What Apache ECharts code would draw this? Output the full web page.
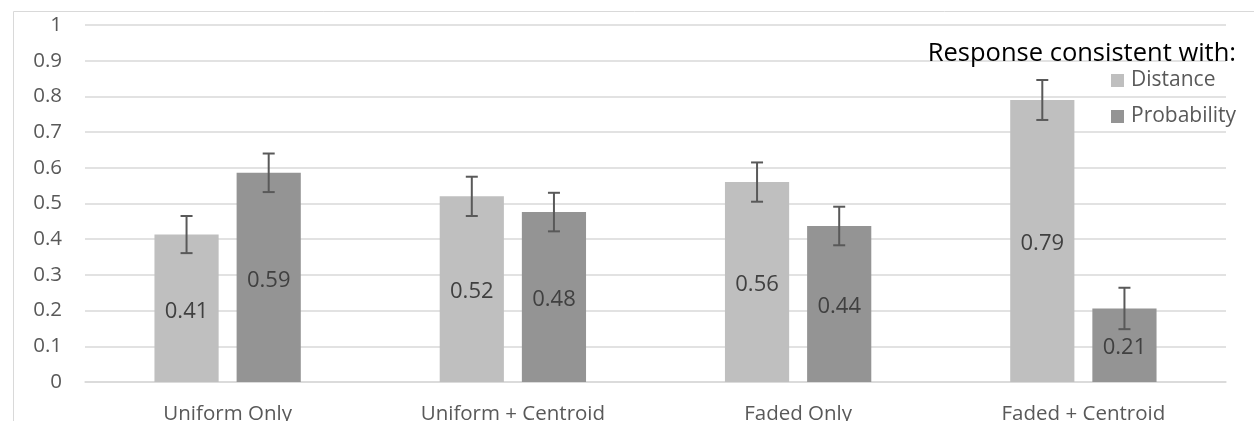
<!DOCTYPE html>
<html><head><meta charset="utf-8">
<script src="https://cdn.jsdelivr.net/npm/echarts@6/dist/echarts.min.js"></script>
<style>html,body{margin:0;padding:0;background:#fff}#c{width:1254px;height:421px}</style>
</head><body><div id="c"></div>
<script>
const categories = ['Uniform Only', 'Uniform + Centroid', 'Faded Only', 'Faded + Centroid'];
const distance = [0.413, 0.520, 0.560, 0.790];
const probability = [0.586, 0.476, 0.437, 0.206];
const distanceErr = [0.052, 0.055, 0.055, 0.056];
const probabilityErr = [0.054, 0.054, 0.054, 0.058];
const labelDistance = ['0.41', '0.52', '0.56', '0.79'];
const labelProbability = ['0.59', '0.48', '0.44', '0.21'];

const FONT = 'Open Sans';
const BAR_W = 0.225, BAR_GAP = 0.28;

function errSeries(vals, errs, side) {
  return {
    type: 'custom',
    z: 5,
    silent: true,
    data: vals.map((v, i) => [i, v - errs[i], v + errs[i]]),
    renderItem: function (params, api) {
      const band = api.size([1, 0])[0];
      const bw = band * BAR_W;
      const off = side * (bw + bw * BAR_GAP) / 2;
      const lo = api.coord([api.value(0), api.value(1)]);
      const hi = api.coord([api.value(0), api.value(2)]);
      const x = lo[0] + off;
      const cap = 6;
      const style = { stroke: '#595959', lineWidth: 2 };
      return {
        type: 'group',
        children: [
          { type: 'line', shape: { x1: x, y1: lo[1], x2: x, y2: hi[1] }, style },
          { type: 'line', shape: { x1: x - cap, y1: lo[1], x2: x + cap, y2: lo[1] }, style },
          { type: 'line', shape: { x1: x - cap, y1: hi[1], x2: x + cap, y2: hi[1] }, style }
        ]
      };
    }
  };
}

const chart = echarts.init(document.getElementById('c'), null, { renderer: 'canvas' });
chart.setOption({
  animation: false,
  backgroundColor: '#fff',
  textStyle: { fontFamily: FONT },
  graphic: [{
    type: 'rect', left: 11, top: 9, z: -10,
    shape: { width: 1300, height: 500 },
    style: { fill: 'none', stroke: '#d9d9d9', lineWidth: 1 }
  }],
  title: {
    text: 'Response consistent with:',
    right: 13, top: 36,
    textStyle: { fontFamily: FONT, fontSize: 25.5, fontWeight: 'normal', color: '#000' }
  },
  legend: {
    orient: 'vertical', left: 1106, top: 65,
    itemWidth: 13, itemHeight: 13, itemGap: 15, icon: 'rect',
    textStyle: { fontFamily: FONT, fontSize: 21, color: '#595959', padding: [0, 0, 0, 2] },
    data: ['Distance', 'Probability']
  },
  grid: { left: 85, right: 28, top: 25, bottom: 39, containLabel: false, outerBoundsMode: 'none' },
  xAxis: {
    type: 'category', data: categories,
    axisLine: { lineStyle: { color: '#d9d9d9', width: 1.5 } },
    axisTick: { show: false },
    axisLabel: { fontFamily: FONT, fontSize: 20.5, color: '#595959', margin: 22 }
  },
  yAxis: {
    type: 'value', min: 0, max: 1, interval: 0.1,
    axisLine: { show: false }, axisTick: { show: false },
    splitLine: { lineStyle: { color: '#d9d9d9', width: 1.5 } },
    axisLabel: { fontFamily: FONT, fontSize: 20.5, color: '#595959', margin: 23,
      formatter: v => String(Math.round(v * 10) / 10) }
  },
  series: [
    {
      name: 'Distance', type: 'bar', data: distance,
      barWidth: (BAR_W * 100) + '%', barGap: (BAR_GAP * 100) + '%',
      itemStyle: { color: '#bfbfbf' },
      label: { show: true, position: 'inside', offset: [0, 3], fontFamily: FONT, fontSize: 22, color: '#404040',
        formatter: p => labelDistance[p.dataIndex] }
    },
    {
      name: 'Probability', type: 'bar', data: probability,
      barWidth: (BAR_W * 100) + '%', barGap: (BAR_GAP * 100) + '%',
      itemStyle: { color: '#949494' },
      label: { show: true, position: 'inside', offset: [0, 3], fontFamily: FONT, fontSize: 22, color: '#404040',
        formatter: p => labelProbability[p.dataIndex] }
    },
    errSeries(distance, distanceErr, -1),
    errSeries(probability, probabilityErr, 1)
  ]
});
</script></body></html>
